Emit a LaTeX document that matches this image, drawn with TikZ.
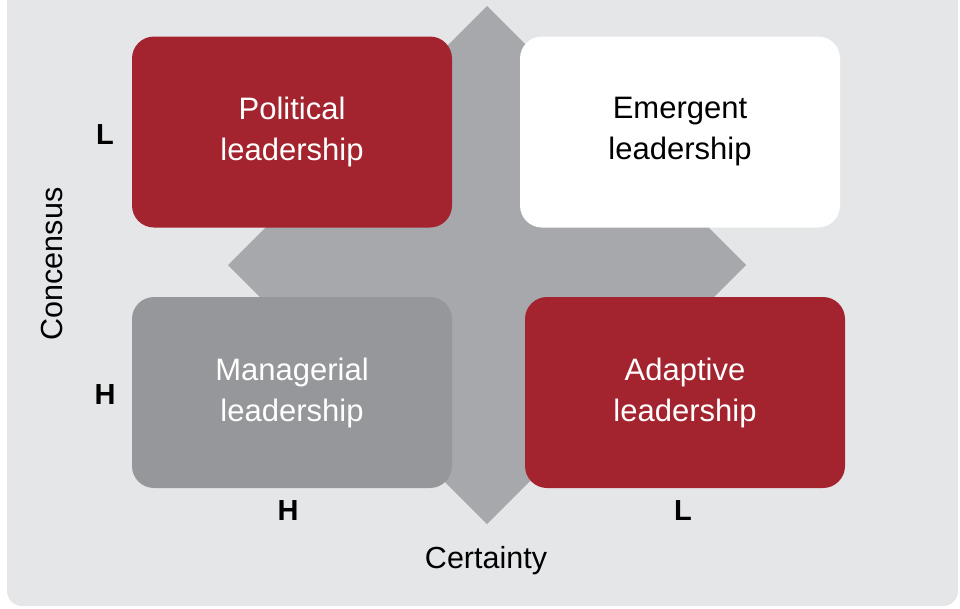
\documentclass[tikz,border=0pt]{standalone}
\usepackage{fontspec}
\setmainfont{Liberation Sans}
\definecolor{bgc}{HTML}{E5E6E8}
\definecolor{diac}{HTML}{A7A8AB}
\definecolor{redc}{HTML}{A3242F}
\definecolor{greyc}{HTML}{96979A}
\tikzset{
  quad/.style={rounded corners=22pt, minimum width=320pt, minimum height=191pt, align=center, inner sep=0pt,
    font=\fontsize{31}{41}\selectfont},
  redquad/.style={quad, fill=redc, text=white},
  whitequad/.style={quad, fill=white, text=black},
  greyquad/.style={quad, fill=greyc, text=white},
  axlabel/.style={font=\fontsize{29}{34}\selectfont\bfseries, text=black, inner sep=0pt},
  axtitle/.style={font=\fontsize{30.5}{34}\selectfont, text=black, inner sep=0pt}
}
\begin{document}
\begin{tikzpicture}[x=1pt,y=-1pt]
\useasboundingbox (0,0) rectangle (960,608);
\fill[bgc, rounded corners=15pt] (7,-40) rectangle (958,606);
\fill[diac] (487,6) coordinate (dt) -- (746,265) coordinate (dr) -- (487,524) coordinate (db) -- (228,265) coordinate (dl) -- cycle;
\node[redquad] (pol) at (292,132) {Political\\leadership};
\node[whitequad] (emg) at (680,132) {Emergent\\leadership};
\node[greyquad] (man) at (292,392.5) {Managerial\\leadership};
\node[redquad] (ada) at (685,392.5) {Adaptive\\leadership};
\node[axlabel] (lL) at (105,135) {L};
\node[axlabel] (lH) at (105,395) {H};
\node[axlabel] (bH) at (288,511) {H};
\node[axlabel] (bL) at (683,511) {L};
\node[axtitle, rotate=90] (con) at (52,264) {Concensus};
\node[axtitle] (cer) at (486,561) {Certainty};
\end{tikzpicture}
\end{document}
